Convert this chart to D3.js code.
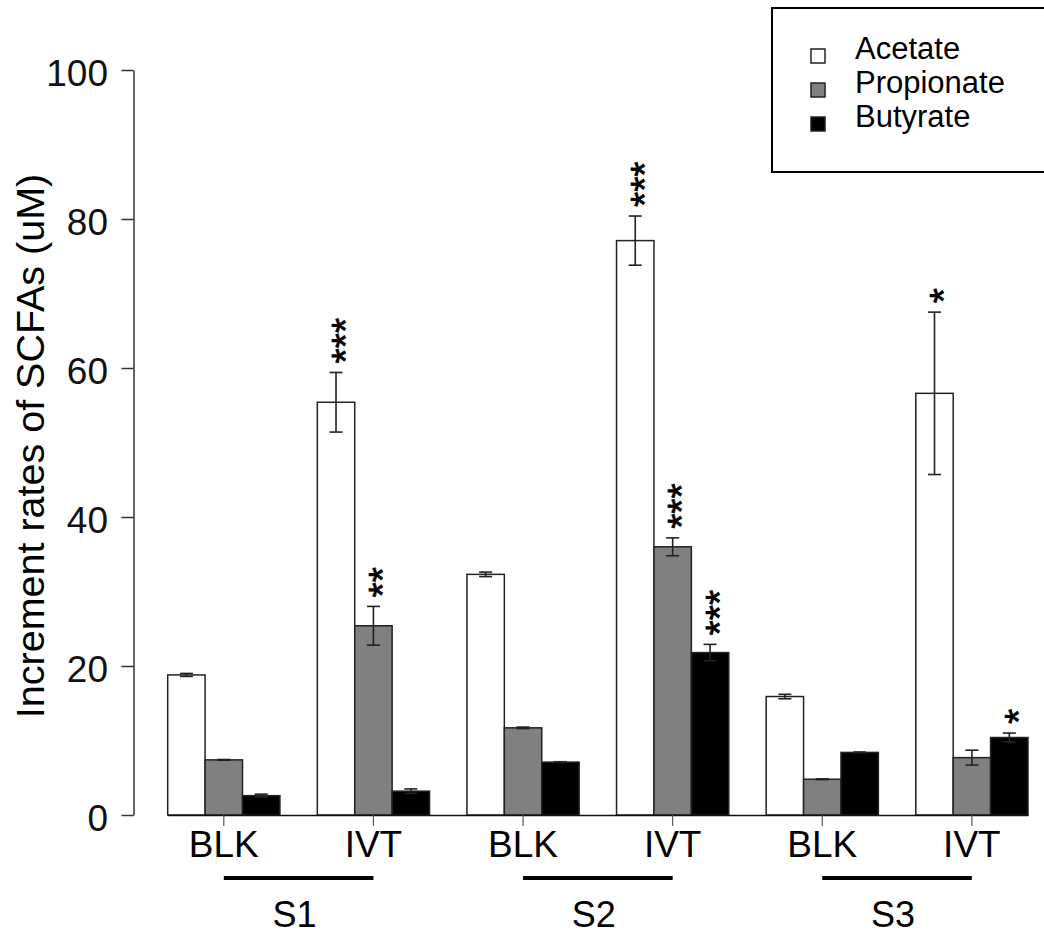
<!DOCTYPE html>
<html>
<head>
<meta charset="utf-8">
<script src="https://cdn.jsdelivr.net/npm/d3@7"></script>
<style>
  html, body { margin: 0; padding: 0; background: #fff; }
  svg { display: block; font-family: "Liberation Sans", Arial, Helvetica, sans-serif; }
</style>
</head>
<body>
<svg id="chart" width="1044" height="935"></svg>
<script>
// ---------------- data ----------------
const groups = ["S1", "S2", "S3"];
const treatments = ["BLK", "IVT"];
const categories = ["S1-BLK", "S1-IVT", "S2-BLK", "S2-IVT", "S3-BLK", "S3-IVT"];
const seriesNames = ["Acetate", "Propionate", "Butyrate"];
const seriesColors = ["#ffffff", "#808080", "#000000"];

const acetate        = [18.8, 55.4, 32.3, 77.1, 15.9, 56.6];
const acetateErr     = [0.2, 4.0, 0.3, 3.3, 0.3, 10.9];
const propionate     = [7.4, 25.4, 11.7, 36.0, 4.8, 7.7];
const propionateErr  = [0.05, 2.6, 0.1, 1.2, 0.05, 1.0];
const butyrate       = [2.6, 3.2, 7.1, 21.8, 8.4, 10.4];
const butyrateErr    = [0.2, 0.3, 0.05, 1.1, 0.05, 0.6];

const acetateSig     = ["", "***", "", "***", "", "*"];
const propionateSig  = ["", "**", "", "***", "", ""];
const butyrateSig    = ["", "", "", "***", "", "*"];

const yTicks = [0, 20, 40, 60, 80, 100];
const yTitle = "Increment rates of SCFAs (uM)";

// build table
const values = [acetate, propionate, butyrate];
const errs = [acetateErr, propionateErr, butyrateErr];
const sigs = [acetateSig, propionateSig, butyrateSig];
const rows = [];
categories.forEach((c, i) => {
  seriesNames.forEach((s, j) => {
    rows.push({cat: c, series: s, color: seriesColors[j], v: values[j][i], e: errs[j][i], sig: sigs[j][i]});
  });
});

// ---------------- layout ----------------
const svg = d3.select("#chart");
svg.append("rect").attr("width", 1044).attr("height", 935).attr("fill", "#fff");

const y = d3.scaleLinear().domain([0, 100]).range([815, 70]);
const x0 = d3.scaleBand().domain(categories).range([167.7, 1028]).paddingInner(0.25).paddingOuter(0);
const x1 = d3.scaleBand().domain(seriesNames).range([0, x0.bandwidth()]);

// bars
svg.append("g").selectAll("rect").data(rows).join("rect")
  .attr("x", d => x0(d.cat) + x1(d.series))
  .attr("y", d => y(d.v))
  .attr("width", x1.bandwidth())
  .attr("height", d => y(0) - y(d.v))
  .attr("fill", d => d.color)
  .attr("stroke", "#222")
  .attr("stroke-width", 1.5);

// error bars
const capHalf = 6.5;
const eg = svg.append("g").attr("stroke", "#222").attr("stroke-width", 1.6).attr("fill", "none");
rows.forEach(d => {
  const cx = x0(d.cat) + x1(d.series) + x1.bandwidth() / 2;
  const yt = y(d.v + d.e), yb = y(d.v - d.e);
  eg.append("line").attr("x1", cx).attr("x2", cx).attr("y1", yt).attr("y2", yb);
  eg.append("line").attr("x1", cx - capHalf).attr("x2", cx + capHalf).attr("y1", yt).attr("y2", yt);
  eg.append("line").attr("x1", cx - capHalf).attr("x2", cx + capHalf).attr("y1", yb).attr("y2", yb);
});

// significance stars: one text per bar, rotated so the asterisks stack upward
const starSize = 39;
const sg = svg.append("g");
rows.filter(d => d.sig).forEach(d => {
  const cx = x0(d.cat) + x1(d.series) + x1.bandwidth() / 2;
  const bottom = y(d.v + d.e) - 9;
  sg.append("text")
    .attr("transform", `translate(${cx + 0.58 * starSize},${bottom}) rotate(-90)`)
    .attr("text-anchor", "start")
    .attr("font-size", starSize)
    .attr("fill", "#000")
    .attr("stroke", "#000")
    .attr("stroke-width", 0.7)
    .text(d.sig);
});

// y axis
const yAxis = d3.axisLeft(y).tickValues(yTicks).tickSize(12).tickPadding(13.5).tickSizeOuter(0);
const gy = svg.append("g").attr("transform", "translate(133.5,0)").call(yAxis);
gy.select(".domain").attr("stroke", "#333").attr("stroke-width", 1.5);
gy.selectAll(".tick line").attr("stroke", "#333").attr("stroke-width", 1.5);
gy.selectAll(".tick text").attr("font-size", 37).attr("fill", "#111")
  .attr("font-family", "Liberation Sans, Arial, sans-serif").attr("dy", "0.41em");

// y title
svg.append("text")
  .attr("transform", "translate(43.5,446) rotate(-90)")
  .attr("text-anchor", "middle")
  .attr("font-size", 39.5)
  .attr("fill", "#000")
  .text(yTitle);

// x axis (treatment labels at group centres)
const xAxis = d3.axisBottom(x0).tickSize(11).tickSizeOuter(0).tickPadding(4.7)
  .tickFormat(c => c.split("-")[1]);
const gx = svg.append("g").attr("transform", "translate(0,815)").call(xAxis);
gx.select(".domain").attr("stroke", "#111").attr("stroke-width", 1.6);
gx.selectAll(".tick line").attr("stroke", "#555").attr("stroke-width", 1.2);
gx.selectAll(".tick text").attr("font-size", 37).attr("fill", "#000")
  .attr("font-family", "Liberation Sans, Arial, sans-serif");

// group underline + labels
groups.forEach(g => {
  const a = x0(g + "-" + treatments[0]) + x0.bandwidth() / 2;
  const b = x0(g + "-" + treatments[1]) + x0.bandwidth() / 2;
  svg.append("line").attr("x1", a).attr("x2", b).attr("y1", 878).attr("y2", 878)
    .attr("stroke", "#000").attr("stroke-width", 4);
  svg.append("text").attr("x", (a + b) / 2 - 4).attr("y", 927)
    .attr("text-anchor", "middle").attr("font-size", 36).attr("fill", "#000").text(g);
});

// legend
const lg = svg.append("g");
lg.append("rect").attr("x", 772).attr("y", 8).attr("width", 290).attr("height", 164)
  .attr("fill", "#fff").attr("stroke", "#000").attr("stroke-width", 2);
seriesNames.forEach((s, i) => {
  const base = 59 + i * 34;
  lg.append("rect").attr("x", 811).attr("y", base - 10).attr("width", 14).attr("height", 14)
    .attr("fill", seriesColors[i]).attr("stroke", "#222").attr("stroke-width", 1.5);
  lg.append("text").attr("x", 855).attr("y", base).attr("font-size", 31).attr("fill", "#000").text(s);
});
</script>
</body>
</html>
